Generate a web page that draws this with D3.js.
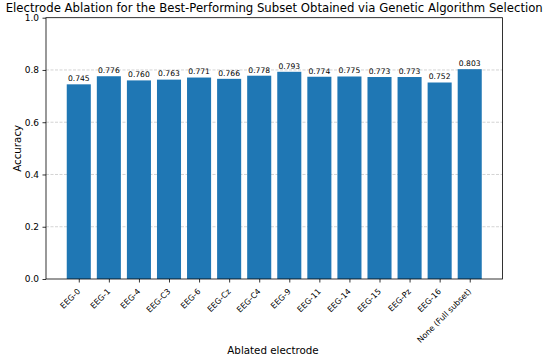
<!DOCTYPE html>
<html><head><meta charset="utf-8">
<script src="https://cdn.jsdelivr.net/npm/d3@7"></script>
<style>body{margin:0;background:#fff}svg{display:block}text{font-family:"DejaVu Sans",sans-serif;fill:#000}</style>
</head><body>
<svg id="c" width="550" height="359"></svg>
<script>
const categories = ["EEG-0","EEG-1","EEG-4","EEG-C3","EEG-6","EEG-Cz","EEG-C4","EEG-9","EEG-11","EEG-14","EEG-15","EEG-Pz","EEG-16","None (Full subset)"];
const accuracy = [0.745,0.776,0.760,0.763,0.771,0.766,0.778,0.793,0.774,0.775,0.773,0.773,0.752,0.803];
const yTicks = [0.0,0.2,0.4,0.6,0.8,1.0];
const title = "Electrode Ablation for the Best-Performing Subset Obtained via Genetic Algorithm Selection";
const xLabel = "Ablated electrode";
const yLabel = "Accuracy";

const svg = d3.select("#c");
const L = 46, R = 502.5, T = 17.7, B = 279;
const n = categories.length;
const x = d3.scaleLinear().domain([-1.09, n - 1 + 1.09]).range([L, R]);
const y = d3.scaleLinear().domain([0, 1]).range([B, T]);
const bw = x(0.8) - x(0);

// grid
svg.append("g").selectAll("line").data(yTicks.filter(d => d > 0 && d < 1)).join("line")
  .attr("x1", L).attr("x2", R).attr("y1", d => y(d)).attr("y2", d => y(d))
  .attr("stroke", "#b0b0b0").attr("stroke-opacity", 0.7).attr("stroke-width", 0.8)
  .attr("stroke-dasharray", "3,1.5");

// bars
svg.append("g").selectAll("rect").data(accuracy).join("rect")
  .attr("x", (d, i) => x(i) - bw / 2).attr("width", bw)
  .attr("y", d => y(d)).attr("height", d => B - y(d))
  .attr("fill", "#1f77b4");

// value labels
svg.append("g").selectAll("text").data(accuracy).join("text")
  .attr("x", (d, i) => x(i)).attr("y", d => y(d) - 3.2)
  .attr("text-anchor", "middle").attr("font-size", 7.6)
  .text(d => d.toFixed(3));

// axes
const ya = d3.axisLeft(y).tickValues(yTicks).tickFormat(d3.format(".1f")).tickSize(3.5).tickPadding(3.5);
const gy = svg.append("g").attr("transform", `translate(${L},0)`).call(ya);
gy.select(".domain").remove();
gy.selectAll("line").attr("stroke", "#000").attr("stroke-width", 0.8);
gy.selectAll("text").attr("font-size", 9).attr("font-family", "DejaVu Sans");

const xa = d3.axisBottom(x).tickValues(d3.range(n)).tickFormat(i => categories[i]).tickSize(3.5);
const gx = svg.append("g").attr("transform", `translate(0,${B})`).call(xa);
gx.select(".domain").remove();
gx.selectAll("line").attr("stroke", "#000").attr("stroke-width", 0.8);
gx.selectAll("text").attr("font-size", 8).attr("font-family", "DejaVu Sans")
  .attr("text-anchor", "end").attr("dy", null).attr("y", 0)
  .attr("transform", "translate(1.5,13) rotate(-45)");

// frame
svg.append("rect").attr("x", L).attr("y", T).attr("width", R - L).attr("height", B - T)
  .attr("fill", "none").attr("stroke", "#000").attr("stroke-width", 0.8);

// titles
const tt = svg.append("text").attr("x", (L + R) / 2).attr("y", 11.5).attr("text-anchor", "middle")
  .attr("font-size", 11).text(title);
const tw = tt.node().getComputedTextLength();
tt.attr("font-size", 11 * 538 / tw);
svg.append("text").attr("x", 273).attr("y", 354).attr("text-anchor", "middle")
  .attr("font-size", 10.3).text(xLabel);
svg.append("text").attr("transform", `translate(20.5,${(T + B) / 2}) rotate(-90)`)
  .attr("text-anchor", "middle").attr("font-size", 10.3).text(yLabel);
</script>
</body></html>
